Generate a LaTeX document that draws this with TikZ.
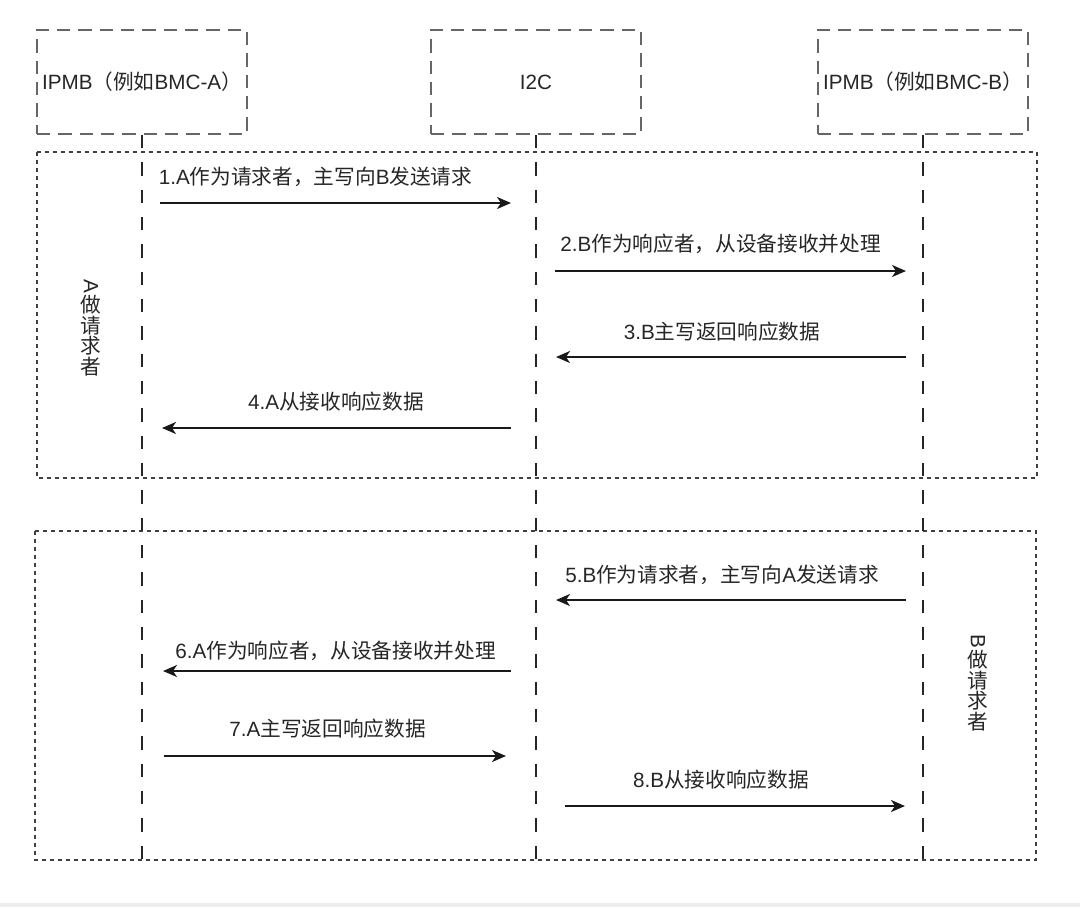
\documentclass[tikz,border=0pt]{standalone}
\usepackage{fontspec}
\setmainfont{Liberation Sans}
\newfontfamily\cjk{Noto Sans CJK SC}
\usetikzlibrary{arrows.meta}
\begin{document}
\begin{tikzpicture}[x=0.75pt,y=-0.75pt,
  every node/.style={font=\fontsize{15.5pt}{18pt}\selectfont, text=black!85},
  hdr/.style={draw=black!60, line width=1.4pt, dash pattern=on 10pt off 6pt, minimum width=157.5pt, minimum height=78pt, inner sep=0},
  life/.style={draw=black!85, line width=1.1pt, dash pattern=on 10pt off 10.5pt},
  frm/.style={draw=black!75, line width=1.1pt, dash pattern=on 3pt off 3pt},
  msg/.style={draw=black!90, line width=1.5pt, -{Stealth[length=10.5pt,width=9pt,inset=3pt]}},
  lbl/.style={inner sep=0, anchor=center},
  vlbl/.style={inner sep=0, align=center, font=\fontsize{15.5pt}{15.5pt}\selectfont},
]
\useasboundingbox (0,0) rectangle (1080,907);
\fill[black!7] (0,903) rectangle (1080,907);

% frames
\draw[frm] (37,152) rectangle (1037,478);
\draw[frm] (35,531) rectangle (1036,860);

% headers
\node[hdr] (ha) at (142,82) {IPMB{\cjk （例如}BMC-A{\cjk ）}};
\node[hdr] (hi) at (536,82) {I2C};
\node[hdr] (hb) at (923,82) {IPMB{\cjk （例如}BMC-B{\cjk ）}};

% lifeline ends
\coordinate (ea) at (142,860);
\coordinate (ei) at (536,860);
\coordinate (eb) at (923,860);
\draw[life] (ha.south) -- (ea);
\draw[life] (hi.south) -- (ei);
\draw[life] (hb.south) -- (eb);

% vertical labels
\node[vlbl] (va) at (91,328) {\rotatebox{-90}{A}\\{\cjk 做}\\{\cjk 请}\\{\cjk 求}\\{\cjk 者}};
\node[vlbl] (vb) at (978,683) {\rotatebox{-90}{B}\\{\cjk 做}\\{\cjk 请}\\{\cjk 求}\\{\cjk 者}};

% message end points
\coordinate (m1s) at (160,203); \coordinate (m1e) at (511,203);
\coordinate (m2s) at (555,271); \coordinate (m2e) at (906,271);
\coordinate (m3s) at (906,357); \coordinate (m3e) at (556,357);
\coordinate (m4s) at (511,428); \coordinate (m4e) at (162,428);
\coordinate (m5s) at (906,600); \coordinate (m5e) at (556,600);
\coordinate (m6s) at (511,671); \coordinate (m6e) at (163,671);
\coordinate (m7s) at (164,756); \coordinate (m7e) at (506,756);
\coordinate (m8s) at (565,806); \coordinate (m8e) at (905,806);

\draw[msg] (m1s) -- (m1e);
\draw[msg] (m2s) -- (m2e);
\draw[msg] (m3s) -- (m3e);
\draw[msg] (m4s) -- (m4e);
\draw[msg] (m5s) -- (m5e);
\draw[msg] (m6s) -- (m6e);
\draw[msg] (m7s) -- (m7e);
\draw[msg] (m8s) -- (m8e);

% labels
\node[lbl] (l1) at (315.5,177) {1.A{\cjk 作为请求者，主写向}B{\cjk 发送请求}};
\node[lbl] (l2) at (720.5,244) {2.B{\cjk 作为响应者，从设备接收并处理}};
\node[lbl] (l3) at (722,332) {3.B{\cjk 主写返回响应数据}};
\node[lbl] (l4) at (336,402) {4.A{\cjk 从接收响应数据}};
\node[lbl] (l5) at (722,575) {5.B{\cjk 作为请求者，主写向}A{\cjk 发送请求}};
\node[lbl] (l6) at (335.5,651) {6.A{\cjk 作为响应者，从设备接收并处理}};
\node[lbl] (l7) at (327.5,729) {7.A{\cjk 主写返回响应数据}};
\node[lbl] (l8) at (721,780) {8.B{\cjk 从接收响应数据}};
\end{tikzpicture}
\end{document}
